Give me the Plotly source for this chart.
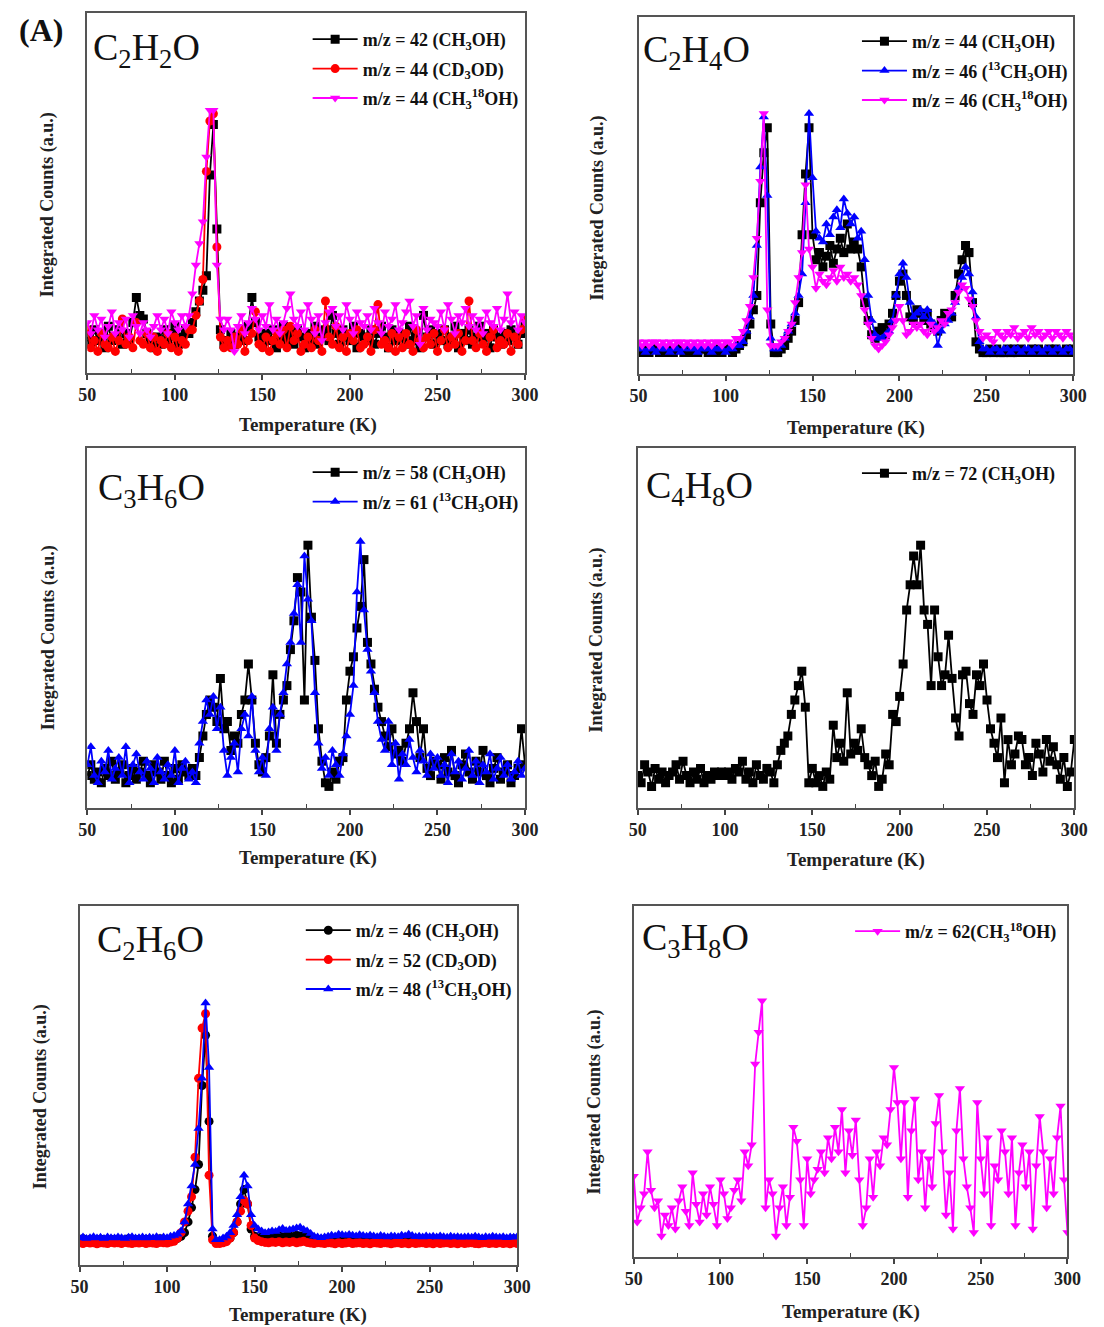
import plotly.graph_objects as go

# Figure fills the 1104x1327 page; body margin is removed in the page script
FW, FH = 1104, 1327


def px(x):
    return x / FW


def py(y):
    return 1 - y / FH


# Temperature grid (K)
TEMPS = list(range(50, 301, 2))
X_TICKS = [50, 100, 150, 200, 250, 300]
X_MINOR = [75, 125, 175, 225, 275]

# ---------------- Panel 1: C2H2O ----------------
p1_mz42_ch3oh = [
    10, 8, 12, 9, 11, 7, 13, 9, 10, 12,
    8, 11, 9, 14, 21, 16, 15, 11, 9, 7,
    10, 8, 12, 9, 11, 13, 8, 10, 12, 11,
    14, 17, 20, 23, 27, 55, 69, 40, 12, 8,
    9, 11, 8, 10, 12, 9, 13, 21, 14, 10,
    8, 11, 9, 12, 7, 10, 13, 9, 11, 8,
    12, 10, 7, 11, 9, 13, 8, 10, 12, 9,
    16, 11, 8, 12, 10, 9, 13, 7, 11, 10,
    9, 12, 8, 11, 13, 10, 7, 12, 9, 11,
    10, 8, 13, 9, 11, 7, 16, 10, 12, 8,
    11, 9, 12, 8, 10, 13, 7, 11, 9, 12,
    8, 10, 13, 9, 11, 7, 12, 10, 8, 11,
    9, 12, 10, 8, 11, 13]
p1_mz44_cd3od = [
    12, 7, 9, 6, 11, 8, 7, 10, 6, 9,
    15, 8, 10, 7, 14, 9, 8, 11, 7, 10,
    6, 9, 8, 11, 7, 10, 6, 9, 8, 12,
    12, 16, 20, 26, 56, 70, 72, 35, 10, 7,
    9, 7, 10, 8, 12, 6, 9, 11, 17, 8,
    7, 10, 6, 9, 11, 8, 12, 7, 13, 9,
    11, 6, 8, 10, 7, 12, 9, 6, 20, 10,
    8, 13, 7, 10, 6, 11, 9, 12, 7, 8,
    10, 6, 12, 19, 8, 9, 7, 11, 6, 10,
    7, 11, 8, 6, 12, 9, 7, 10, 8, 11,
    6, 9, 12, 7, 10, 8, 11, 6, 9, 20,
    9, 7, 11, 8, 6, 10, 12, 7, 9, 8,
    11, 6, 10, 8, 12, 15]
p1_mz44_ch3_18oh = [
    14, 11, 16, 12, 15, 10, 13, 17, 11, 14,
    12, 15, 10, 16, 13, 11, 14, 12, 10, 13,
    16, 12, 15, 11, 17, 14, 12, 16, 13, 16,
    22, 30, 36, 42, 60, 73, 73, 30, 15, 12,
    15, 12, 6, 13, 16, 11, 14, 18, 15, 12,
    16, 13, 19, 12, 15, 11, 14, 18, 22, 15,
    13, 17, 12, 19, 15, 11, 16, 9, 14, 17,
    18, 13, 16, 12, 19, 15, 11, 17, 14, 13,
    16, 12, 18, 14, 11, 17, 13, 15, 19, 12,
    14, 17, 20, 13, 16, 8, 18, 12, 15, 14,
    13, 17, 12, 19, 15, 11, 16, 14, 18, 13,
    16, 12, 15, 11, 17, 14, 13, 18, 12, 15,
    22, 14, 17, 12, 16, 14]

# ---------------- Panel 2: C2H4O ----------------
p2_mz44_ch3oh = [
    7, 6, 7, 6, 7, 7, 6, 7, 6, 7,
    6, 7, 7, 6, 7, 6, 7, 6, 7, 7,
    6, 7, 6, 7, 6, 7, 7, 6, 7, 8,
    9, 11, 14, 18, 22, 48, 62, 69, 14, 6,
    6, 7, 8, 10, 12, 15, 20, 39, 56, 69,
    39, 32, 34, 30, 33, 36, 31, 35, 38, 34,
    42, 35, 37, 35, 30, 20, 15, 11, 10, 12,
    13, 11, 14, 17, 22, 26, 28, 22, 16, 15,
    18, 17, 15, 17, 14, 13, 12, 15, 17, 16,
    16, 22, 28, 32, 36, 34, 20, 9, 7, 6,
    6, 7, 6, 7, 6, 6, 7, 6, 7, 6,
    7, 6, 6, 7, 6, 7, 6, 6, 7, 6,
    7, 6, 6, 7, 6, 7]
p2_mz46_13ch3oh = [
    7, 7, 6, 7, 7, 6, 7, 7, 7, 6,
    7, 7, 6, 7, 8, 7, 7, 6, 7, 7,
    7, 6, 7, 7, 7, 6, 7, 7, 8, 8,
    9, 12, 16, 22, 36, 58, 72, 50, 10, 7,
    7, 8, 10, 12, 14, 17, 22, 28, 48, 73,
    55, 40, 38, 37, 42, 39, 44, 46, 41, 49,
    45, 42, 44, 38, 40, 32, 22, 15, 11, 10,
    10, 11, 12, 15, 22, 28, 31, 27, 20, 16,
    17, 18, 16, 18, 15, 14, 8, 12, 14, 15,
    17, 20, 24, 27, 30, 28, 23, 16, 9, 7,
    7, 6, 7, 7, 6, 7, 7, 6, 7, 7,
    6, 7, 7, 6, 7, 7, 6, 7, 7, 6,
    7, 7, 6, 7, 7, 6]
p2_mz46_ch3_18oh = [
    9, 8, 9, 8, 9, 9, 8, 9, 8, 9,
    8, 9, 9, 8, 9, 8, 9, 8, 9, 8,
    9, 8, 9, 9, 8, 9, 9, 8, 10, 10,
    12, 15, 19, 27, 38, 54, 73, 18, 8, 8,
    8, 9, 10, 12, 14, 20, 27, 34, 53, 35,
    30, 24, 28, 26, 25, 27, 29, 26, 30, 27,
    28, 26, 27, 25, 22, 18, 14, 10, 8, 7,
    8, 9, 11, 13, 15, 19, 15, 11, 12, 14,
    13, 14, 12, 11, 14, 12, 13, 15, 14, 17,
    18, 20, 23, 25, 24, 21, 19, 15, 12, 10,
    11, 10, 9, 12, 11, 10, 12, 11, 13, 10,
    11, 12, 10, 13, 11, 12, 10, 11, 12, 10,
    12, 11, 10, 12, 11, 10]

# ---------------- Panel 3: C3H6O ----------------
p3_mz58_ch3oh = [
    9, 12, 8, 10, 7, 11, 9, 13, 8, 10,
    12, 7, 9, 11, 8, 10, 13, 9, 7, 12,
    10, 8, 13, 9, 7, 11, 8, 12, 10, 9,
    11, 9, 14, 20, 26, 30, 28, 24, 36, 22,
    24, 16, 20, 18, 26, 30, 40, 30, 18, 12,
    10, 14, 20, 37, 18, 26, 30, 34, 44, 52,
    64, 60, 30, 73, 53, 41, 22, 13, 7, 6,
    10, 8, 13, 14, 30, 38, 42, 50, 56, 69,
    46, 40, 33, 28, 24, 20, 17, 22, 15, 16,
    13, 18, 22, 32, 24, 14, 22, 11, 9, 13,
    12, 8, 14, 10, 16, 9, 7, 12, 15, 10,
    8, 13, 10, 16, 9, 7, 11, 14, 8, 10,
    12, 7, 9, 11, 22, 12]
p3_mz61_13ch3oh = [
    12, 17, 9, 7, 13, 10, 16, 8, 11, 14,
    9, 17, 7, 12, 15, 10, 8, 13, 11, 7,
    14, 10, 8, 12, 9, 16, 7, 11, 13, 8,
    10, 7, 18, 24, 30, 26, 31, 22, 28, 16,
    9, 14, 18, 10, 22, 26, 20, 31, 16, 10,
    14, 9, 22, 28, 16, 26, 32, 40, 46, 54,
    62, 46, 70, 58, 52, 32, 18, 11, 14, 9,
    16, 12, 9, 15, 20, 26, 34, 60, 74, 55,
    44, 38, 32, 24, 19, 16, 24, 12, 18, 8,
    15, 12, 19, 14, 10, 16, 13, 9, 15, 11,
    14, 9, 12, 7, 15, 10, 13, 8, 11, 16,
    9, 13, 7, 12, 10, 15, 8, 11, 14, 9,
    12, 8, 10, 13, 9, 11]

# ---------------- Panel 4: C4H8O ----------------
p4_mz72_ch3oh = [
    9, 7, 12, 10, 6, 11, 8, 10, 7, 9,
    10, 12, 8, 13, 9, 7, 10, 8, 11, 7,
    9, 8, 10, 9, 10, 9, 10, 8, 11, 10,
    13, 8, 10, 7, 12, 9, 8, 11, 10, 7,
    12, 16, 18, 20, 26, 30, 34, 38, 28, 7,
    11, 7, 9, 6, 10, 8, 23, 14, 18, 13,
    32, 15, 18, 16, 22, 14, 12, 9, 13, 6,
    8, 15, 12, 26, 24, 31, 40, 55, 62, 70,
    62, 73, 55, 51, 34, 55, 42, 34, 37, 48,
    36, 25, 20, 37, 38, 29, 26, 37, 34, 40,
    30, 22, 18, 14, 25, 7, 19, 12, 15, 20,
    19, 12, 14, 9, 18, 15, 10, 19, 13, 17,
    12, 8, 14, 6, 10, 19]

# ---------------- Panel 5: C2H6O ----------------
p5_mz46_ch3oh = [
    7, 7.3, 6.8, 7.1, 7, 6.9, 7.2, 7, 6.8, 7.1,
    7, 7.2, 6.9, 7, 7.3, 6.8, 7.1, 7, 6.9, 7.2,
    7, 6.8, 7.1, 7.3, 7, 6.9, 7.2, 7, 7.4, 8,
    9, 12, 16, 21, 28, 50, 64, 40, 8, 6.5,
    6.5, 6.8, 7, 7.5, 9, 12, 17, 21, 17, 10,
    8, 7.5, 7.8, 7.6, 8, 7.7, 7.9, 8.2, 7.8, 8,
    8.1, 7.9, 8.3, 8, 8.2, 7.8, 7.5, 7.2, 7, 7.1,
    7, 7.2, 7, 7.3, 7.1, 7.4, 7.2, 7, 7.3, 7.1,
    7.2, 7, 7.3, 7.1, 7, 7.2, 7.1, 7.3, 7, 7.2,
    7.1, 7, 7.3, 7.2, 7, 7.1, 7.3, 7, 7.2, 7.1,
    7, 7.2, 7.1, 7.3, 7, 7.1, 7.2, 7, 7.3, 7.1,
    7.2, 7, 7.1, 7.3, 7, 7.2, 7.1, 7, 7.2, 7.1,
    7, 7.2, 7.1, 7, 7.3, 7.1]
p5_mz52_cd3od = [
    6.2, 6, 6.3, 6.1, 6.2, 5.9, 6.2, 6.1, 6, 6.3,
    6.1, 6.2, 6, 6.3, 6.1, 6, 6.2, 6.1, 6.3, 6,
    6.2, 6.1, 6, 6.3, 6.2, 6.1, 6.4, 6.6, 7.5, 9,
    12, 15, 19, 30, 52, 66, 70, 25, 7, 6,
    6, 6.2, 6.5, 7.5, 9, 12, 15, 18, 17, 11,
    7.5, 6.8, 6.5, 6.3, 6.2, 6.4, 6.3, 6.5, 6.2, 6.4,
    6.3, 6.5, 6.2, 6.4, 6.6, 6.3, 6.1, 6, 6.2, 6.1,
    6, 6.2, 6.1, 5.9, 6.2, 6, 6.1, 6.3, 6, 6.1,
    6.2, 6, 6.1, 5.9, 6.2, 6.1, 6, 6.2, 6.1, 5.9,
    6.1, 6.2, 6, 6.1, 5.9, 6.2, 6, 6.1, 6.2, 6,
    6.1, 5.9, 6.2, 6, 6.1, 6.2, 6, 6.1, 5.9, 6.2,
    6, 6.1, 6.2, 6, 5.9, 6.1, 6.2, 6, 6.1, 6,
    6.2, 6, 6.1, 5.9, 6.2, 6]
p5_mz48_13ch3oh = [
    7.5, 7.8, 7.4, 7.6, 7.9, 7.5, 7.7, 7.4, 7.8, 7.6,
    7.5, 7.8, 7.6, 7.4, 7.7, 7.9, 7.5, 7.6, 7.8, 7.5,
    7.7, 7.6, 7.9, 7.5, 7.8, 7.6, 8, 8.2, 8.6, 9.5,
    12, 17, 22, 28, 38, 52, 73, 55, 10, 7,
    7, 7.5, 8, 9, 11, 14, 19, 25, 22, 14,
    11, 10, 9.5, 9, 9.2, 9.5, 9.3, 9.8, 10.2, 9.6,
    9.8, 10, 10.3, 10.5, 9.9, 9.5, 8.8, 8, 7.8, 7.6,
    7.8, 8, 8.3, 8.1, 8.6, 8.4, 8.2, 8.5, 8.3, 8.1,
    8.4, 8.2, 8, 8.3, 8.1, 7.9, 8.2, 8, 7.8, 8.1,
    8, 7.9, 8.3, 8.1, 8.6, 8.2, 7.9, 8, 7.8, 8.1,
    7.9, 8, 7.8, 8.1, 7.9, 7.7, 8, 7.8, 7.9, 7.7,
    7.8, 7.9, 7.7, 8, 7.8, 7.6, 7.9, 7.7, 8, 7.8,
    7.7, 7.9, 7.6, 7.8, 7.7, 7.9]

# ---------------- Panel 6: C3H8O ----------------
p6_mz62_ch3_18oh = [
    23, 10, 14, 18, 30, 19, 14, 16, 6, 12,
    9, 14, 8, 16, 20, 13, 9, 24, 15, 10,
    18, 12, 20, 15, 9, 22, 18, 11, 14, 19,
    22, 16, 30, 26, 32, 55, 64, 73, 14, 22,
    18, 6, 14, 20, 9, 17, 37, 33, 22, 9,
    28, 18, 22, 25, 30, 24, 34, 28, 37, 30,
    42, 24, 36, 29, 39, 22, 9, 14, 28, 17,
    30, 26, 34, 32, 42, 54, 44, 28, 44, 17,
    36, 45, 22, 30, 14, 28, 20, 38, 46, 30,
    12, 24, 8, 36, 48, 28, 20, 14, 7, 44,
    28, 18, 34, 9, 26, 22, 36, 30, 18, 34,
    9, 24, 32, 20, 30, 8, 26, 40, 30, 14,
    28, 18, 34, 43, 22, 7]

BLACK, RED, BLUE, MAGENTA = "#000000", "#ff0000", "#0000ff", "#ff00ff"
SERIF = "Liberation Serif"

# positions below are in page pixels (reference picture coordinates)
panels = [
    dict(frame=(80, 13, 527, 373), label="C<sub>2</sub>H<sub>2</sub>O", label_pos=(84, 50),
         ytitle=(40, 205), xtitle=(305, 425), legend_pos=(305, 21),
         series=[("m/z = 42 (CH<sub>3</sub>OH)", p1_mz42_ch3oh, BLACK, "square"),
                 ("m/z = 44 (CD<sub>3</sub>OD)", p1_mz44_cd3od, RED, "circle"),
                 ("m/z = 44 (CH<sub>3</sub><sup>18</sup>OH)", p1_mz44_ch3_18oh, MAGENTA, "triangle-down")]),
    dict(frame=(643, 17, 1087, 374), label="C<sub>2</sub>H<sub>4</sub>O", label_pos=(645, 52),
         ytitle=(601, 208), xtitle=(865, 428), legend_pos=(866, 23),
         series=[("m/z = 44 (CH<sub>3</sub>OH)", p2_mz44_ch3oh, BLACK, "square"),
                 ("m/z = 46 (<sup>13</sup>CH<sub>3</sub>OH)", p2_mz46_13ch3oh, BLUE, "triangle-up"),
                 ("m/z = 46 (CH<sub>3</sub><sup>18</sup>OH)", p2_mz46_ch3_18oh, MAGENTA, "triangle-down")]),
    dict(frame=(80, 448, 527, 808), label="C<sub>3</sub>H<sub>6</sub>O", label_pos=(89, 490),
         ytitle=(40, 638), xtitle=(305, 858), legend_pos=(305, 454),
         series=[("m/z = 58 (CH<sub>3</sub>OH)", p3_mz58_ch3oh, BLACK, "square"),
                 ("m/z = 61 (<sup>13</sup>CH<sub>3</sub>OH)", p3_mz61_13ch3oh, BLUE, "triangle-up")]),
    dict(frame=(642, 448, 1088, 808), label="C<sub>4</sub>H<sub>8</sub>O", label_pos=(649, 488),
         ytitle=(601, 640), xtitle=(865, 860), legend_pos=(866, 455),
         series=[("m/z = 72 (CH<sub>3</sub>OH)", p4_mz72_ch3oh, BLACK, "square")]),
    dict(frame=(72, 906, 519, 1265), label="C<sub>2</sub>H<sub>6</sub>O", label_pos=(88, 942),
         ytitle=(32, 1097), xtitle=(295, 1315), legend_pos=(298, 912),
         series=[("m/z = 46 (CH<sub>3</sub>OH)", p5_mz46_ch3oh, BLACK, "circle"),
                 ("m/z = 52 (CD<sub>3</sub>OD)", p5_mz52_cd3od, RED, "circle"),
                 ("m/z = 48 (<sup>13</sup>CH<sub>3</sub>OH)", p5_mz48_13ch3oh, BLUE, "triangle-up")]),
    dict(frame=(638, 906, 1081, 1257), label="C<sub>3</sub>H<sub>8</sub>O", label_pos=(644, 940),
         ytitle=(597, 1102), xtitle=(860, 1312), legend_pos=(859, 913),
         series=[("m/z = 62(CH<sub>3</sub><sup>18</sup>OH)", p6_mz62_ch3_18oh, MAGENTA, "triangle-down")]),
]

fig = go.Figure()
layout = dict(width=FW, height=FH, autosize=False, margin=dict(l=0, r=0, t=0, b=0),
              paper_bgcolor="white", plot_bgcolor="white", showlegend=True)
annotations = []

for p_i, p in enumerate(panels, start=1):
    sfx = "" if p_i == 1 else str(p_i)
    x0, y0, x1, y1 = p["frame"]
    layout["xaxis" + sfx] = dict(
        domain=[px(x0), px(x1)], range=[50, 300], anchor="y" + sfx,
        tickvals=X_TICKS, ticks="outside", ticklen=5, tickwidth=1.5, tickcolor="#444",
        minor=dict(tickvals=X_MINOR, ticks="inside", ticklen=4, tickwidth=1.2, tickcolor="#444"),
        showline=True, linecolor="#555", linewidth=1.6, mirror=True,
        showgrid=False, zeroline=False,
        tickfont=dict(family=SERIF, size=18, color="#222", weight="bold"))
    layout["yaxis" + sfx] = dict(
        domain=[py(y1), py(y0)], range=[0, 100], anchor="x" + sfx,
        showticklabels=False, ticks="", showline=True, linecolor="#555", linewidth=1.6,
        mirror=True, showgrid=False, zeroline=False)
    lg = "legend" + sfx
    lx, ly = p["legend_pos"]
    layout[lg] = dict(x=px(lx), y=py(ly), xanchor="left", yanchor="top",
                      bgcolor="rgba(0,0,0,0)", borderwidth=0, itemwidth=45,
                      traceorder="grouped", tracegroupgap=3,
                      font=dict(family=SERIF, size=18, color="#111", weight="bold"))
    for s_i, (name, vals, color, sym) in enumerate(p["series"]):
        if len(vals) != len(TEMPS):
            raise ValueError(f"panel {p_i} series {s_i}: {len(vals)} values")
        fig.add_trace(go.Scatter(
            x=TEMPS, y=vals, mode="lines+markers", name=name,
            line=dict(color=color, width=1.8),
            marker=dict(symbol=sym, size=9, color=color),
            xaxis="x" + sfx, yaxis="y" + sfx, legend=lg,
            legendgroup=f"p{p_i}s{s_i}"))
    lx0, ly0 = p["label_pos"]
    annotations.append(dict(text=p["label"], x=px(lx0), y=py(ly0), xref="paper", yref="paper",
                            xanchor="left", yanchor="middle", showarrow=False,
                            font=dict(family=SERIF, size=38, color="#111")))
    tx, ty = p["ytitle"]
    annotations.append(dict(text="Integrated Counts (a.u.)", x=px(tx), y=py(ty),
                            xref="paper", yref="paper", textangle=-90, showarrow=False,
                            xanchor="center", yanchor="middle",
                            font=dict(family=SERIF, size=18, color="#222", weight="bold")))
    tx, ty = p["xtitle"]
    annotations.append(dict(text="Temperature (K)", x=px(tx), y=py(ty),
                            xref="paper", yref="paper", showarrow=False,
                            xanchor="center", yanchor="middle",
                            font=dict(family=SERIF, size=19, color="#222", weight="bold")))

annotations.append(dict(text="(A)", x=px(8), y=py(30), xref="paper", yref="paper",
                        xanchor="left", yanchor="middle", showarrow=False,
                        font=dict(family=SERIF, size=32, color="#111", weight="bold")))
layout["annotations"] = annotations
fig.update_layout(**layout)
fig.write_html(
    "out.html",
    config={"responsive": False, "displayModeBar": False},
    post_script="document.body.style.margin='0';document.documentElement.style.overflow='hidden';",
)
